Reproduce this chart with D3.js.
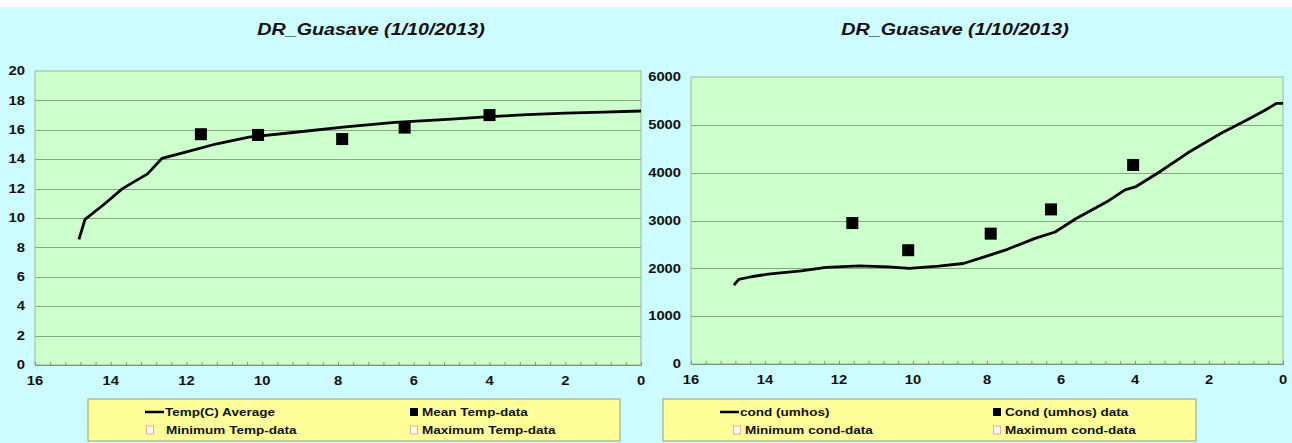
<!DOCTYPE html>
<html>
<head>
<meta charset="utf-8">
<script src="https://cdn.jsdelivr.net/npm/d3@7"></script>
<style>
body { margin: 0; background: #fff; }
svg { display: block; }
text { font-family: "Liberation Sans", Arial, sans-serif; font-weight: bold; fill: #111; }
</style>
</head>
<body>
<script>
// distance axis runs 16 -> 0
var xTicks = [16, 14, 12, 10, 8, 6, 4, 2, 0];
var tempTicks = [0, 2, 4, 6, 8, 10, 12, 14, 16, 18, 20];
var condTicks = [0, 1000, 2000, 3000, 4000, 5000, 6000];

var tempDist = [14.84, 14.68, 14.19, 13.69, 13.03, 12.65, 12.0, 11.2, 10.35, 9.25, 7.8, 6.5, 5.0, 4.0, 3.0, 2.0, 1.0, 0];
var tempAvg  = [8.55, 9.9, 10.9, 12.0, 13.0, 14.05, 14.5, 15.05, 15.5, 15.8, 16.2, 16.5, 16.72, 16.9, 17.03, 17.14, 17.2, 17.28];
var tempDataDist = [11.62, 10.11, 7.89, 6.24, 4.0];
var tempDataMean = [15.7, 15.65, 15.37, 16.15, 17.0];

var condDist = [14.84, 14.71, 14.37, 13.92, 13.02, 12.35, 11.45, 10.66, 10.1, 9.31, 8.64, 8.07, 7.51, 6.72, 6.16, 5.6, 4.7, 4.27, 3.97, 3.35, 2.56, 1.66, 0.99, 0.5, 0.17, 0];
var condAvg  = [1650, 1768, 1824, 1879, 1949, 2018, 2053, 2032, 1997, 2046, 2101, 2240, 2379, 2621, 2760, 3037, 3419, 3641, 3710, 4008, 4420, 4830, 5095, 5300, 5450, 5450];
var condDataDist = [11.64, 10.13, 7.9, 6.27, 4.05];
var condDataMean = [2947, 2379, 2725, 3232, 4161];

var W = 1292, H = 443, SX = 1.23;

var svg = d3.select('body').append('svg')
	.attr('width', W)
	.attr('height', H);

svg.append('rect').attr('width', W).attr('height', H).attr('fill', '#fff');
svg.append('rect').attr('x', 0).attr('y', 7).attr('width', W).attr('height', H - 7).attr('fill', '#ccfcff');

// text is a bit wider than tall in the reference
function label(g, x, y, str, size, anchor, italic) {
	var t = g.append('g')
		.attr('transform', 'translate(' + x + ',' + y + ') scale(' + SX + ',1)')
		.append('text')
		.attr('text-anchor', anchor || 'start')
		.attr('dy', '0.35em')
		.style('font-size', size + 'px')
		.text(str);
	if (italic) t.style('font-style', 'italic');
	return t;
}

function panel(cfg) {
	var g = svg.append('g');
	var x = d3.scaleLinear().domain([16, 0]).range([cfg.x0, cfg.x1]);
	var y = d3.scaleLinear().domain(cfg.yDomain).range([cfg.y1, cfg.y0]);

	g.append('rect')
		.attr('x', cfg.x0).attr('y', cfg.y0)
		.attr('width', cfg.x1 - cfg.x0).attr('height', cfg.y1 - cfg.y0)
		.attr('fill', '#ccffcc')
		.attr('stroke', '#9cb49c');

	// gridlines
	g.selectAll('.grid')
		.data(cfg.yTicks.slice(1, -1))
		.enter().append('line')
		.attr('x1', cfg.x0).attr('x2', cfg.x1)
		.attr('y1', function(d) { return Math.round(y(d)) + 0.5; })
		.attr('y2', function(d) { return Math.round(y(d)) + 0.5; })
		.attr('stroke', '#86a686');

	// x axis with minor ticks
	var minor = d3.range(0, 80).map(function(i) { return i * 0.4; }).filter(function(v) { return v <= 16.001; });
	var ax = g.append('g')
		.attr('transform', 'translate(0,' + cfg.y1 + ')')
		.call(d3.axisBottom(x).tickValues(minor).tickSize(-3).tickFormat(''));
	ax.select('.domain').attr('stroke', '#7d8f7d');
	ax.selectAll('.tick line').attr('stroke', '#7d8f7d');

	xTicks.forEach(function(v) {
		label(g, x(v), cfg.y1 + 16, String(v), 12, 'middle');
	});
	cfg.yTicks.forEach(function(v) {
		label(g, cfg.x0 - 10, y(v), String(v), 12, 'end');
	});

	label(g, cfg.titleX, 29, 'DR_Guasave (1/10/2013)', 16, 'middle', true);

	var line = d3.line()
		.x(function(d) { return x(d[0]); })
		.y(function(d) { return y(d[1]); });
	g.append('path')
		.datum(d3.zip(cfg.lineX, cfg.lineY))
		.attr('d', line)
		.attr('fill', 'none')
		.attr('stroke', '#000')
		.attr('stroke-width', 2.8)
		.attr('stroke-linejoin', 'round');

	g.selectAll('.pt')
		.data(d3.zip(cfg.ptX, cfg.ptY))
		.enter().append('rect')
		.attr('x', function(d) { return x(d[0]) - 6; })
		.attr('y', function(d) { return y(d[1]) - 6; })
		.attr('width', 12).attr('height', 12)
		.attr('fill', '#000');

	// legend
	var lg = cfg.legend;
	g.append('rect')
		.attr('x', lg.x).attr('y', 399)
		.attr('width', lg.w).attr('height', 42)
		.attr('fill', '#ffff99')
		.attr('stroke', '#9a9a80');
	var r1 = 412, r2 = 430;
	g.append('line')
		.attr('x1', lg.lineX).attr('x2', lg.lineX + 19)
		.attr('y1', r1).attr('y2', r1)
		.attr('stroke', '#000').attr('stroke-width', 2.5);
	label(g, lg.lineX + 20, r1, lg.names[0], 11, 'start');
	g.append('rect')
		.attr('x', lg.col2 - 4).attr('y', r1 - 4)
		.attr('width', 8).attr('height', 8).attr('fill', '#000');
	label(g, lg.col2 + 8, r1, lg.names[1], 11, 'start');
	[[lg.minX, lg.names[2]], [lg.col2, lg.names[3]]].forEach(function(p) {
		g.append('rect')
			.attr('x', p[0] - 3.5).attr('y', r2 - 4)
			.attr('width', 7).attr('height', 8)
			.attr('fill', '#fff').attr('stroke', '#f0a898');
		label(g, p[0] + (p[0] === lg.col2 ? 8 : lg.minGap), r2, p[1], 11, 'start');
	});
}

panel({
	x0: 35, x1: 641, y0: 71, y1: 365,
	yDomain: [0, 20], yTicks: tempTicks,
	titleX: 371,
	lineX: tempDist, lineY: tempAvg,
	ptX: tempDataDist, ptY: tempDataMean,
	legend: {x: 88, w: 532, lineX: 145, minX: 150, minGap: 16, col2: 414,
		names: ['Temp(C) Average', 'Mean Temp-data', 'Minimum Temp-data', 'Maximum Temp-data']}
});

panel({
	x0: 691, x1: 1283, y0: 77, y1: 364,
	yDomain: [0, 6000], yTicks: condTicks,
	titleX: 955,
	lineX: condDist, lineY: condAvg,
	ptX: condDataDist, ptY: condDataMean,
	legend: {x: 663, w: 533, lineX: 720, minX: 737, minGap: 8, col2: 997,
		names: ['cond (umhos)', 'Cond (umhos) data', 'Minimum cond-data', 'Maximum cond-data']}
});
</script>
</body>
</html>
